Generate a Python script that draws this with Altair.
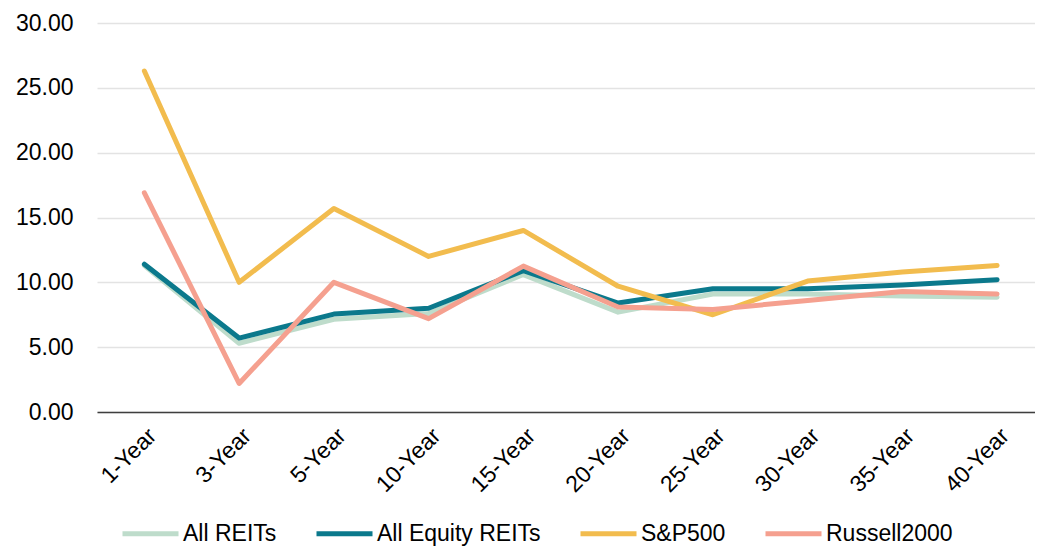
import json
import altair as alt
import pandas as pd

periods = ["1-Year", "3-Year", "5-Year", "10-Year", "15-Year",
           "20-Year", "25-Year", "30-Year", "35-Year", "40-Year"]
series_names = ["All REITs", "All Equity REITs", "S&P500", "Russell2000"]
all_reits = [11.3, 5.3, 7.15, 7.6, 10.6, 7.7, 9.1, 9.1, 8.95, 8.85]
all_equity_reits = [11.4, 5.7, 7.55, 8.0, 10.9, 8.4, 9.5, 9.5, 9.8, 10.2]
sp500 = [26.3, 10.0, 15.7, 12.0, 14.0, 9.7, 7.5, 10.1, 10.8, 11.3]
russell2000 = [16.9, 2.2, 10.0, 7.2, 11.25, 8.1, 7.9, 8.6, 9.3, 9.1]
colors = ["#BEDCCB", "#0B798C", "#F2BC4E", "#F5A08F"]
y_ticks = [0, 5, 10, 15, 20, 25, 30]

rows = []
for name, vals in zip(series_names, [all_reits, all_equity_reits, sp500, russell2000]):
    for i, (p, v) in enumerate(zip(periods, vals)):
        rows.append({"series": name, "period": p, "idx": i, "value": v})
df = pd.DataFrame(rows)

label_expr = json.dumps(periods) + "[datum.value]"
FONT = "Liberation Sans, Arial, sans-serif"

chart = alt.Chart(df).mark_line(
    strokeWidth=5, strokeCap="round", strokeJoin="round"
).encode(
    x=alt.X(
        "idx:Q",
        scale=alt.Scale(domain=[-0.5, 9.4], nice=False, zero=False),
        axis=alt.Axis(
            values=list(range(len(periods))),
            labelExpr=label_expr,
            labelAngle=-45,
            labelFontSize=23,
            labelFont=FONT,
            labelColor="#000000",
            labelPadding=12,
            ticks=False,
            grid=False,
            domainColor="#3F3F3F",
            domainWidth=1.5,
            title=None,
            labelOverlap=False,
        ),
    ),
    y=alt.Y(
        "value:Q",
        scale=alt.Scale(domain=[0, 30], nice=False),
        axis=alt.Axis(
            values=y_ticks,
            format=".2f",
            labelFontSize=23,
            labelFont=FONT,
            labelColor="#000000",
            labelPadding=24,
            ticks=False,
            domain=False,
            gridColor="#E3E3E3",
            gridWidth=1.5,
            title=None,
        ),
    ),
    color=alt.Color(
        "series:N",
        sort=series_names,
        scale=alt.Scale(domain=series_names, range=colors),
        legend=alt.Legend(
            orient="none",
            legendX=23,
            legendY=480,
            direction="horizontal",
            title=None,
            symbolType="stroke",
            symbolSize=3136,
            symbolStrokeWidth=5,
            labelFontSize=23,
            labelFont=FONT,
            labelColor="#000000",
            labelOffset=2,
            columnPadding=29,
            labelLimit=0,
        ),
    ),
    detail="series:N",
).properties(
    width=938,
    height=389,
    autosize=alt.AutoSizeParams(type="none"),
    padding={"left": 89, "top": 15, "right": 0, "bottom": 140},
).configure_view(stroke=None)

chart.save("out.html", embed_options={"renderer": "svg", "actions": False})
